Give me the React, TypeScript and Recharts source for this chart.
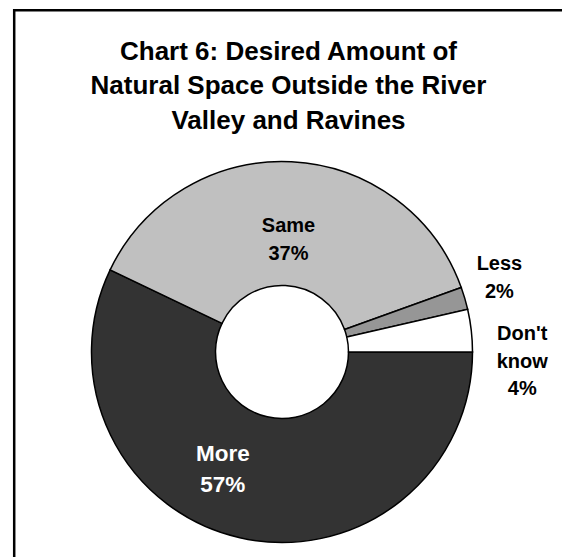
import React from 'react';
import { PieChart, Pie, Cell } from 'recharts';

// ---- data ----
const categories: string[] = ['More', 'Same', 'Less', "Don't know"];
const shares: number[] = [57.1, 37.4, 1.9, 3.6];
const labelNameLines: string[][] = [['More'], ['Same'], ['Less'], ["Don't", 'know']];
const titleLines: string[] = [
  'Chart 6: Desired Amount of',
  'Natural Space Outside the River',
  'Valley and Ravines',
];

// ---- styles ----
const fills = ['#333333', '#c0c0c0', '#969696', '#ffffff'];
const labelStyle = [
  { r: 0.685, da: -14.2, size: 22.5, color: '#ffffff' },
  { r: 0.596, da: -0.4, size: 20, color: '#000000' },
  { r: 1.207, da: 2.6, size: 20, color: '#000000' },
  { r: 1.262, da: -8.5, size: 20, color: '#000000' },
];
const FONT = '"Liberation Sans", Arial, Helvetica, sans-serif';
const RAD = Math.PI / 180;

const data = categories.map((name, i) => ({ name, value: shares[i] }));

const renderLabel = (props: any) => {
  const { cx, cy, midAngle, outerRadius, percent, index } = props;
  const st = labelStyle[index];
  const ang = (midAngle + st.da) * RAD;
  const x = cx + outerRadius * st.r * Math.cos(ang);
  const y = cy - outerRadius * st.r * Math.sin(ang);
  const lines = [...labelNameLines[index], `${Math.round(percent * 100)}%`];
  const lh = st.size * 1.39;
  const first = y - ((lines.length - 1) * lh) / 2 + (st.size * 0.716) / 2;
  return (
    <text
      key={`lbl-${index}`}
      x={x}
      y={first}
      textAnchor="middle"
      fontFamily={FONT}
      fontWeight="bold"
      fontSize={st.size}
      fill={st.color}
    >
      {lines.map((l, i) => (
        <tspan key={i} x={x} y={first + i * lh}>
          {l}
        </tspan>
      ))}
    </text>
  );
};

export default function App() {
  return (
    <div style={{ position: 'absolute', left: 0, top: 0, width: 562, height: 557, background: '#fff', overflow: 'hidden' }}>
      <PieChart width={562} height={557} margin={{ top: 0, right: 0, bottom: 0, left: 0 }}>
        <Pie
          data={data}
          dataKey="value"
          nameKey="name"
          cx={282}
          cy={352}
          innerRadius={66.5}
          outerRadius={190.5}
          startAngle={0}
          endAngle={-360}
          stroke="#000000"
          strokeWidth={1.5}
          label={renderLabel}
          labelLine={false}
          isAnimationActive={false}
        >
          {data.map((d, i) => (
            <Cell key={d.name} fill={fills[i]} />
          ))}
        </Pie>
      </PieChart>
      <svg
        width={562}
        height={557}
        style={{ position: 'absolute', left: 0, top: 0, pointerEvents: 'none' }}
      >
        <line x1={13} y1={10.2} x2={562} y2={10.2} stroke="#000" strokeWidth={2.5} />
        <line x1={14.2} y1={9} x2={14.2} y2={557} stroke="#000" strokeWidth={2.5} />
        <text textAnchor="middle" fontFamily={FONT} fontWeight="bold" fontSize={26} fill="#000">
          {titleLines.map((t, i) => (
            <tspan key={i} x={288.5} y={59.5 + i * 34.5}>
              {t}
            </tspan>
          ))}
        </text>
      </svg>
    </div>
  );
}
